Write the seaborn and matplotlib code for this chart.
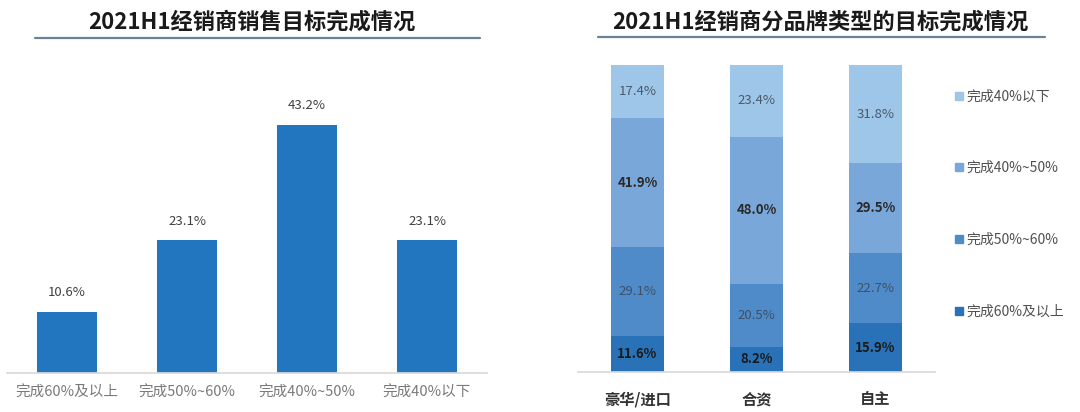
import numpy as np
import pandas as pd
import seaborn as sns
import matplotlib.pyplot as plt
from matplotlib.lines import Line2D

# %% data
levels = ["完成60%及以上", "完成50%~60%", "完成40%~50%", "完成40%以下"]
share_all = [10.6, 23.1, 43.2, 23.1]

brands = ["豪华/进口", "合资", "自主"]
share_60_up = [11.6, 8.2, 15.9]
share_50_60 = [29.1, 20.5, 22.7]
share_40_50 = [41.9, 48.0, 29.5]
share_40_down = [17.4, 23.4, 31.8]

title_left = "2021H1经销商销售目标完成情况"
title_right = "2021H1经销商分品牌类型的目标完成情况"

# %% style
sns.set_theme(style="white")
plt.rcParams["font.family"] = ["Noto Sans CJK SC", "DejaVu Sans"]

W, H = 1080, 412
fig = plt.figure(figsize=(W / 100, H / 100), dpi=100)


def px_axes(x0, x1, ytop, ybot):
    return fig.add_axes([x0 / W, (H - ybot) / H, (x1 - x0) / W, (ybot - ytop) / H])


# %% left chart
ax1 = px_axes(7, 487, 60, 373)
df_all = pd.DataFrame({"level": levels, "share": share_all})
sns.barplot(data=df_all, x="level", y="share", color="#2176bf", width=0.5,
            saturation=1, linewidth=0, ax=ax1)
ax1.set_xlim(-0.5, 3.5)
ax1.set_ylim(0, 54.5)
for i, v in enumerate(share_all):
    ax1.text(i, v + 2.2, f"{v:.1f}%", ha="center", va="bottom",
             fontsize=9.5, color="#404040")
ax1.set_xlabel("")
ax1.set_ylabel("")
ax1.set_yticks([])
for s in ["top", "right", "left"]:
    ax1.spines[s].set_visible(False)
ax1.spines["bottom"].set_color("#d9d9d9")
ax1.tick_params(axis="x", length=0, pad=9, labelsize=10.5, labelcolor="#7a7a7a")
ax1.set_xticks([0.5, 1.5, 2.5], minor=True)
ax1.tick_params(axis="x", which="minor", length=5, color="#d9d9d9", direction="out")

# %% right chart
ax2 = px_axes(578, 935, 65, 372)
layers = [
    ("完成60%及以上", share_60_up, "#2a72b8", "#1a1a1a", "bold"),
    ("完成50%~60%", share_50_60, "#4f8bc9", "#3d5268", "normal"),
    ("完成40%~50%", share_40_50, "#7aa7d9", "#2a2a2a", "bold"),
    ("完成40%以下", share_40_down, "#9ec6e9", "#4a5a6a", "normal"),
]
bottom = np.zeros(len(brands))
handles = []
for name, vals, col, tcol, weight in layers:
    vals = np.array(vals)
    sns.barplot(x=brands, y=vals, bottom=bottom, color=col, width=0.45,
                saturation=1, linewidth=0, ax=ax2)
    for i, v in enumerate(vals):
        ax2.text(i, bottom[i] + v / 2, f"{v:.1f}%", ha="center", va="center",
                 fontsize=9.5, color=tcol, fontweight=weight)
    bottom = bottom + vals
    handles.append(Line2D([], [], marker="s", linestyle="", markersize=6,
                          color=col, label=name))
ax2.set_xlim(-0.5, 2.5)
ax2.set_ylim(0, 100)
ax2.set_yticks([])
for s in ["top", "right", "left"]:
    ax2.spines[s].set_visible(False)
ax2.spines["bottom"].set_color("#d9d9d9")
ax2.tick_params(axis="x", length=0, pad=14, labelsize=11, labelcolor="#333333")
for lab in ax2.get_xticklabels():
    lab.set_fontweight("bold")

fig.legend(handles=handles[::-1], loc="upper left",
           bbox_to_anchor=(946 / W, (H - 84) / H), frameon=False,
           fontsize=10, labelspacing=4.15, handletextpad=0.05,
           handlelength=1.0, labelcolor="#505050", borderaxespad=0)

# %% titles
fig.text(252 / W, (H - 22) / H, title_left, ha="center", va="center",
         fontsize=16, fontweight="bold", color="#1a1a1a")
fig.text(820 / W, (H - 22) / H, title_right, ha="center", va="center",
         fontsize=16, fontweight="bold", color="#1a1a1a")
fig.add_artist(Line2D([35 / W, 480 / W], [(H - 38) / H] * 2, color="#6b8299", lw=1.6))
fig.add_artist(Line2D([598 / W, 1045 / W], [(H - 37) / H] * 2, color="#6b8299", lw=1.6))

fig.savefig("out.png", dpi=100)
